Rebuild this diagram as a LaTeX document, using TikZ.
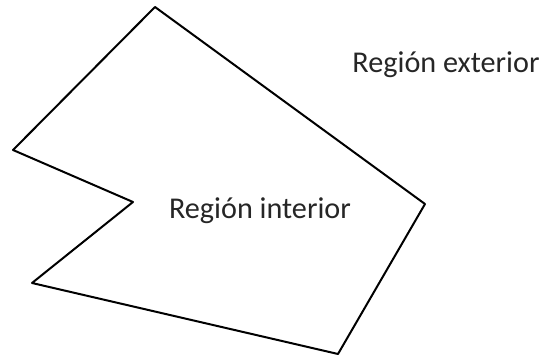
\documentclass[tikz,border=0pt]{standalone}
\usepackage{fontspec}
\setmainfont{Carlito}
\begin{document}
\begin{tikzpicture}[x=1pt,y=-1pt,
  lbl/.style={font=\fontsize{30.2}{35}\selectfont, inner sep=0pt, text=black!85}]
\useasboundingbox (0,0) rectangle (547,358);
\coordinate (p1) at (155,7);
\coordinate (p2) at (425,204);
\coordinate (p3) at (338,354);
\coordinate (p4) at (32,283);
\coordinate (p5) at (133,202);
\coordinate (p6) at (13,150);
\draw[line width=2pt, line join=round] (p1) -- (p2) -- (p3) -- (p4) -- (p5) -- (p6) -- cycle;
\node[lbl] (ext) at (446,65) {Región exterior};
\node[lbl] (int) at (260,211) {Región interior};
\end{tikzpicture}
\end{document}
